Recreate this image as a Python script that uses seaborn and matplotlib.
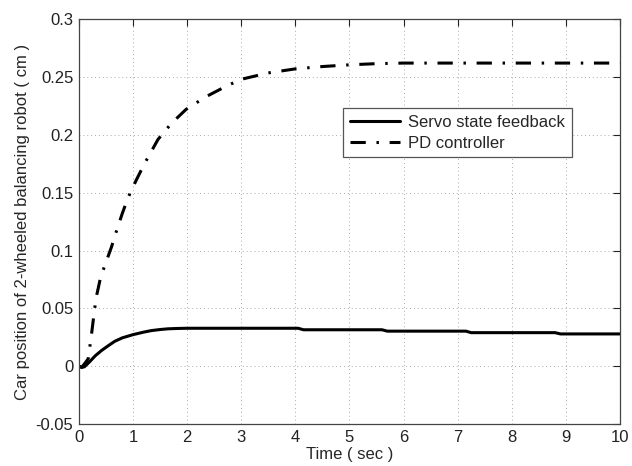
import matplotlib
matplotlib.use("Agg")
import matplotlib.pyplot as plt
import seaborn as sns
import pandas as pd

# ---- data ----
servo_t = [0, 0.05, 0.1, 0.2, 0.3, 0.42, 0.55, 0.66, 0.8, 1.0, 1.2, 1.34, 1.5, 1.64, 1.8, 2.0,
           2.5, 3.0, 4.05, 4.15, 5.6, 5.7, 7.15, 7.25, 8.8, 8.9, 10.0]
servo_v = [0, -0.001, -0.0005, 0.004, 0.009, 0.0137, 0.018, 0.0215, 0.0245, 0.0273, 0.0295,
           0.0308, 0.0317, 0.0323, 0.0326, 0.0328, 0.0328, 0.0328,
           0.0328, 0.0315, 0.0315, 0.0303, 0.0303, 0.029, 0.029, 0.0279, 0.0279]

pd_t = [0, 0.05, 0.1, 0.17, 0.23, 0.29, 0.33, 0.4, 0.5, 0.6, 0.7, 0.8, 0.91, 1.06, 1.21, 1.46,
        1.71, 1.98, 2.35, 2.72, 3.0, 3.5, 4.0, 4.5, 5.0, 5.5, 6.0, 7.0, 8.0, 9.0, 10.0]
pd_v = [0, -0.001, 0.002, 0.0064, 0.027, 0.05, 0.062, 0.077, 0.09, 0.103, 0.118, 0.132, 0.146,
        0.161, 0.175, 0.196, 0.21, 0.222, 0.233, 0.242, 0.248, 0.2535, 0.257, 0.259, 0.2605,
        0.2615, 0.262, 0.262, 0.262, 0.262, 0.262]

series_names = ["Servo state feedback", "PD controller"]
x_ticks = [0, 1, 2, 3, 4, 5, 6, 7, 8, 9, 10]
y_ticks = [-0.05, 0, 0.05, 0.1, 0.15, 0.2, 0.25, 0.3]
y_tick_labels = ["-0.05", "0", "0.05", "0.1", "0.15", "0.2", "0.25", "0.3"]

df = pd.concat([
    pd.DataFrame({"t": servo_t, "v": servo_v, "series": series_names[0]}),
    pd.DataFrame({"t": pd_t, "v": pd_v, "series": series_names[1]}),
])

sns.set_style("white")
plt.rcParams['font.family'] = ['Liberation Sans', 'DejaVu Sans']
plt.rcParams['axes.unicode_minus'] = False

fig = plt.figure(figsize=(6.32, 4.66), dpi=100)
ax = fig.add_axes([0.125, 0.090, 0.856, 0.869])

sns.lineplot(data=df, x="t", y="v", hue="series", style="series",
             palette=["black", "black"], dashes=[(None, None), (5, 3.5, 0.8, 3.5)],
             linewidth=2.2, estimator=None, sort=False, ax=ax)
ax.lines[0].set_linestyle('-')

ax.set_xlim(0, 10)
ax.set_ylim(-0.05, 0.3)
ax.set_xticks(x_ticks)
ax.set_xticklabels([str(v) for v in x_ticks])
ax.set_yticks(y_ticks)
ax.set_yticklabels(y_tick_labels)
ax.tick_params(direction='in', length=5, width=0.8, labelsize=12, colors='#222222',
               top=True, right=True, pad=4)
ax.grid(True, linestyle=(0, (1, 3)), color='#aaaaaa', linewidth=0.7)
for s in ax.spines.values():
    s.set_color('#444444')
    s.set_linewidth(0.9)

ax.set_xlabel("Time ( sec )", fontsize=12, labelpad=2)
ax.set_ylabel("Car position of 2-wheeled balancing robot ( cm )", fontsize=12, labelpad=4)

leg = ax.legend(loc='upper left', bbox_to_anchor=(0.488, 0.78), fontsize=12,
                handlelength=3.0, frameon=True, fancybox=False, borderpad=0.4,
                labelspacing=0.35, handletextpad=0.5, borderaxespad=0)
leg.get_frame().set_edgecolor('#555555')
leg.get_frame().set_linewidth(0.9)
leg.get_frame().set_alpha(1)

fig.savefig("out.png", dpi=100)
